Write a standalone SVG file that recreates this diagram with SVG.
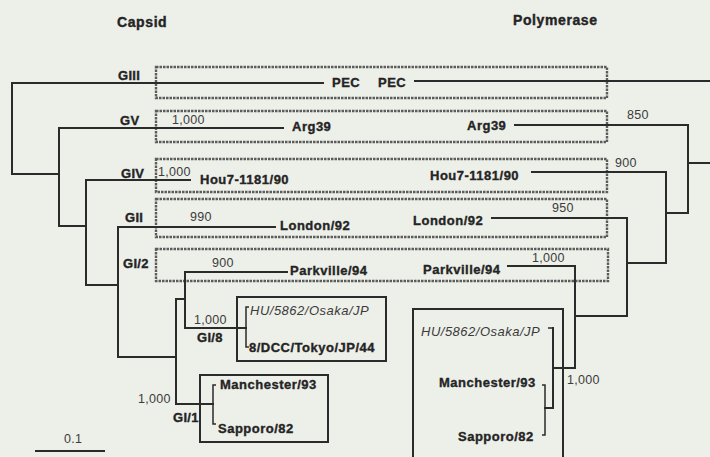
<svg xmlns="http://www.w3.org/2000/svg" width="710" height="457" viewBox="0 0 710 457">
<style>
text{font-family:"Liberation Sans",Arial,sans-serif;fill:#242424}
.t{font-size:14px;font-weight:bold;letter-spacing:0.6px;stroke:#242424;stroke-width:0.4}
.lf{font-size:13px;font-weight:bold;letter-spacing:0.5px;stroke:#242424;stroke-width:0.35}
.it{font-size:13px;font-style:italic;letter-spacing:0.5px;fill:#3a3a3a}
.gp{font-size:13px;font-weight:bold;letter-spacing:0.3px;stroke:#242424;stroke-width:0.35}
.bs{font-size:12.5px;letter-spacing:0.3px;fill:#3c3c3c}
.ln{fill:none;stroke:#2b2b2b;stroke-width:2;stroke-linecap:square}
.tk{fill:none;stroke:#2b2b2b;stroke-width:1.5}
.db{fill:none;stroke:#5c5c5c;stroke-width:2.4;stroke-dasharray:2.5 1}
.sb{fill:none;stroke:#2b2b2b;stroke-width:2}
</style>
<rect width="710" height="457" fill="#edefe9"/>
<text class="t" x="117" y="27">Capsid</text>
<text class="t" x="513" y="25">Polymerase</text>

<g id="clade-GIII">
<rect class="db" x="156" y="67" width="451" height="31"/>
<text class="gp" x="118" y="80">GIII</text>
<text class="lf" x="332" y="87">PEC</text>
<text class="lf" x="378" y="87">PEC</text>
</g>
<g id="clade-GV">
<rect class="db" x="156" y="111" width="451" height="31"/>
<text class="gp" x="120" y="125">GV</text>
<text class="bs" x="172" y="124">1,000</text>
<text class="lf" x="292" y="131">Arg39</text>
<text class="lf" x="467" y="130">Arg39</text>
<text class="bs" x="627" y="119">850</text>
</g>
<g id="clade-GIV">
<rect class="db" x="156" y="159" width="451" height="33"/>
<text class="gp" x="121" y="178">GIV</text>
<text class="bs" x="158" y="176">1,000</text>
<text class="lf" x="200" y="184">Hou7-1181/90</text>
<text class="lf" x="430" y="180">Hou7-1181/90</text>
<text class="bs" x="615" y="167">900</text>
</g>
<g id="clade-GII">
<rect class="db" x="156" y="199" width="451" height="38"/>
<text class="gp" x="125" y="222">GII</text>
<text class="bs" x="190" y="221">990</text>
<text class="lf" x="280" y="230">London/92</text>
<text class="lf" x="413" y="225">London/92</text>
<text class="bs" x="552" y="212">950</text>
</g>
<g id="clade-GI2">
<rect class="db" x="156" y="249" width="452" height="32"/>
<text class="gp" x="123" y="268">GI/2</text>
<text class="bs" x="212" y="267">900</text>
<text class="lf" x="290" y="275">Parkville/94</text>
<text class="lf" x="423" y="274">Parkville/94</text>
<text class="bs" x="532" y="262">1,000</text>
</g>
<g id="clade-GI8">
<rect class="sb" x="237" y="297" width="149" height="64"/>
<text class="gp" x="197" y="342">GI/8</text>
<text class="bs" x="194" y="324">1,000</text>
<text class="it" x="250" y="315">HU/5862/Osaka/JP</text>
<text class="lf" x="249" y="352">8/DCC/Tokyo/JP/44</text>
</g>
<g id="clade-GI1">
<rect class="sb" x="200" y="375" width="128" height="67"/>
<text class="gp" x="173" y="422">GI/1</text>
<text class="bs" x="138" y="403">1,000</text>
<text class="lf" x="220" y="389">Manchester/93</text>
<text class="lf" x="218" y="433">Sapporo/82</text>
</g>
<g id="polymerase-GI">
<rect class="sb" x="413" y="309" width="150" height="160"/>
<text class="it" x="421" y="336">HU/5862/Osaka/JP</text>
<text class="lf" x="439" y="387">Manchester/93</text>
<text class="lf" x="458" y="441">Sapporo/82</text>
<text class="bs" x="567" y="384">1,000</text>
</g>
<g id="scale">
<line class="ln" x1="36" y1="451" x2="104" y2="451"/>
<text class="bs" x="64" y="443">0.1</text>
</g>

<g id="connectors">
<path class="ln" d="M12 83H323M12 83V174H59M59 128H283M59 128V226H86M86 180H190M86 180V285H118M118 227H275M118 227V357H176M176 299V404H213M176 299H185M185 272H287M185 272V328H246"/>
<path class="tk" d="M216 385H213V424H216M249 307H246V347H249"/>
<path class="ln" d="M415 81H710M515 125H688V213M688 163H710M532 172H666V263M666 213H688M492 218H627V316M627 263H666M508 266H575V368M575 316H627M553 368H575M553 328V408M545 408H553"/>
<path class="tk" d="M548 328H553M542 385H545V435H542"/>
</g>
</svg>
